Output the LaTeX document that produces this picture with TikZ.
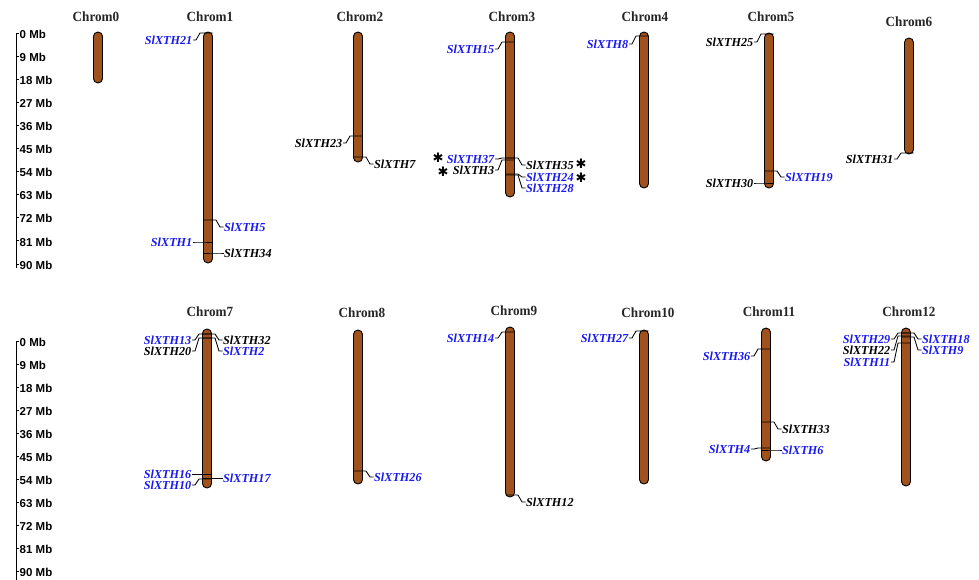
\documentclass[tikz,border=0pt]{standalone}
\usepackage{fontspec}
\setmainfont{Liberation Serif}
\newfontfamily\genefnt{Liberation Serif}
\newfontfamily\titlefnt[FakeStretch=0.94]{Liberation Serif}
\newfontfamily\scalefnt{Liberation Sans}
\newfontfamily\symfnt{DejaVu Sans}
\definecolor{chromfill}{RGB}{160,82,28}
\definecolor{geneblue}{RGB}{25,25,240}
\newcommand\chrom[4]{\node[chromo,minimum height={#4-#3}] (#1) at (#2,{(#3+#4)/2}) {};}
\newcommand\gL[6]{\node[gene,text=#4,anchor=east] (#6) at ({#1-15},#3) {#5};
  \draw[conn] ({#1+4.5},#2) -- ({#1-8},#2) -- ({#1-12},#3) -- (#6.east);}
\newcommand\gR[6]{\node[gene,text=#4,anchor=west] (#6) at ({#1+15.5},#3) {#5};
  \draw[conn] ({#1-4.5},#2) -- ({#1+8},#2) -- ({#1+12},#3) -- (#6.west);}
\begin{document}
\begin{tikzpicture}[x=1pt,y=-1pt,
  chromo/.style={draw=black,line width=0.9pt,fill=chromfill,rounded corners=4.4pt,minimum width=9pt,inner sep=0pt},
  gene/.style={inner sep=0.5pt,text height=8pt,text depth=0pt,font=\genefnt\fontsize{12.2}{12}\selectfont\bfseries\itshape},
  ctitle/.style={inner sep=0pt,text=black!85,font=\titlefnt\fontsize{14}{14}\selectfont\bfseries},
  conn/.style={line width=0.85pt,black},
  sbar/.style={line width=1pt,black},
  slabel/.style={inner sep=0.5pt,anchor=west,font=\scalefnt\bfseries\fontsize{11.5}{12}\selectfont},
  astk/.style={inner sep=0pt,font=\symfnt\fontsize{13}{13}\selectfont}]
\useasboundingbox (0,0) rectangle (979,579);
% scale bars
\coordinate (sbt0) at (16,33);
\coordinate (sbt1) at (16,268);
\draw[sbar] (19,33) -- (sbt0) -- (sbt1);
\foreach \i/\m in {0/0,1/9,2/18,3/27,4/36,5/45,6/54,7/63,8/72,9/81,10/90}{
  \draw[sbar] (16,{33+23.1*\i}) -- (19,{33+23.1*\i});
  \node[slabel] (st\i) at (19,{34+23.1*\i}) {\m\ Mb};
}
\coordinate (sbb0) at (16,341.5);
\coordinate (sbb1) at (16,580);
\draw[sbar] (19,341.5) -- (sbb0) -- (sbb1);
\foreach \i/\m in {0/0,1/9,2/18,3/27,4/36,5/45,6/54,7/63,8/72,9/81,10/90}{
  \draw[sbar] (16,{341.5+22.95*\i}) -- (19,{341.5+22.95*\i});
  \node[slabel] (sb\i) at (19,{342.5+22.95*\i}) {\m\ Mb};
}
% chromosome titles
\node[ctitle] (t0) at (96,17) {Chrom0};
\node[ctitle] (t1) at (210,17) {Chrom1};
\node[ctitle] (t2) at (360,17) {Chrom2};
\node[ctitle] (t3) at (512,17) {Chrom3};
\node[ctitle] (t4) at (645,17) {Chrom4};
\node[ctitle] (t5) at (771,17) {Chrom5};
\node[ctitle] (t6) at (909,22) {Chrom6};
\node[ctitle] (t7) at (210,312) {Chrom7};
\node[ctitle] (t8) at (362,313) {Chrom8};
\node[ctitle] (t9) at (514,311) {Chrom9};
\node[ctitle] (t10) at (648,313) {Chrom10};
\node[ctitle] (t11) at (769,312) {Chrom11};
\node[ctitle] (t12) at (909,312) {Chrom12};
% chromosomes
\chrom{c0}{98}{32}{83}
\chrom{c1}{208}{32}{263}
\chrom{c2}{358}{32}{162}
\chrom{c3}{510}{32}{197}
\chrom{c4}{644}{32}{188}
\chrom{c5}{769}{33}{188}
\chrom{c6}{909}{38}{154}
\chrom{c7}{207}{329}{488}
\chrom{c8}{358}{330}{484}
\chrom{c9}{510}{327}{497}
\chrom{c10}{644}{330}{484}
\chrom{c11}{766}{328}{461}
\chrom{c12}{906}{328}{486}
% genes chrom1
\gL{208}{33}{40}{geneblue}{SlXTH21}{g21}
\gR{208}{220}{227}{geneblue}{SlXTH5}{g5}
\gL{208}{242}{242}{geneblue}{SlXTH1}{g1}
\gR{208}{253}{253}{black}{SlXTH34}{g34}
% chrom2
\gL{358}{136}{143}{black}{SlXTH23}{g23}
\gR{358}{157}{164}{black}{SlXTH7}{g7}
% chrom3
\gL{510}{42}{49}{geneblue}{SlXTH15}{g15}
\gL{510}{158}{159}{geneblue}{SlXTH37}{g37}
\gL{510}{160}{170}{black}{SlXTH3}{g3}
\gR{510}{158}{165}{black}{SlXTH35}{g35}
\gR{510}{174}{177}{geneblue}{SlXTH24}{g24}
\gR{510}{175}{188}{geneblue}{SlXTH28}{g28}
\node[astk] (a37) at (438,158) {✱};
\node[astk] (a3) at (443,171.5) {✱};
\node[astk] (a35) at (581,163.5) {✱};
\node[astk] (a24) at (581,178) {✱};
% chrom4
\gL{644}{36}{44}{geneblue}{SlXTH8}{g8}
% chrom5
\gL{769}{34}{42}{black}{SlXTH25}{g25}
\gR{769}{171}{177}{geneblue}{SlXTH19}{g19}
\gL{769}{183}{183}{black}{SlXTH30}{g30}
% chrom6
\gL{909}{153}{159}{black}{SlXTH31}{g31}
% chrom7
\gL{207}{334}{340}{geneblue}{SlXTH13}{g13}
\gL{207}{338}{351}{black}{SlXTH20}{g20}
\gR{207}{334}{340}{black}{SlXTH32}{g32}
\gR{207}{338}{351}{geneblue}{SlXTH2}{g2}
\gL{207}{474}{474}{geneblue}{SlXTH16}{g16}
\gL{207}{479}{485}{geneblue}{SlXTH10}{g10}
\gR{207}{478}{478}{geneblue}{SlXTH17}{g17}
% chrom8
\gR{358}{471}{477}{geneblue}{SlXTH26}{g26}
% chrom9
\gL{510}{332}{338}{geneblue}{SlXTH14}{g14}
\gR{510}{495}{502}{black}{SlXTH12}{g12}
% chrom10
\gL{644}{331}{338}{geneblue}{SlXTH27}{g27}
% chrom11
\gL{766}{349}{356}{geneblue}{SlXTH36}{g36}
\gR{766}{422}{429}{black}{SlXTH33}{g33}
\gL{766}{448}{449}{geneblue}{SlXTH4}{g4}
\gR{766}{450}{450}{geneblue}{SlXTH6}{g6}
% chrom12
\gL{906}{333}{339}{geneblue}{SlXTH29}{g29}
\gL{906}{336}{350}{black}{SlXTH22}{g22}
\gL{906}{343}{362}{geneblue}{SlXTH11}{g11}
\gR{906}{333}{339}{geneblue}{SlXTH18}{g18}
\gR{906}{337}{350}{geneblue}{SlXTH9}{g9}
\end{tikzpicture}
\end{document}
